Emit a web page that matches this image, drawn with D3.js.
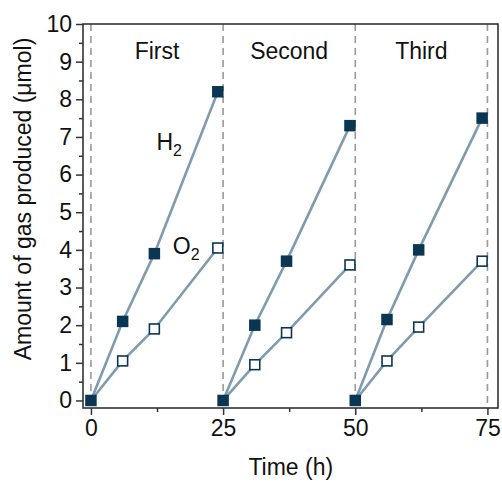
<!DOCTYPE html>
<html>
<head>
<meta charset="utf-8">
<script src="https://cdn.jsdelivr.net/npm/d3@7"></script>
<style>
  body { margin: 0; background: #fff; }
  text { font-family: "Liberation Sans", Arial, sans-serif; fill: #111; }
</style>
</head>
<body>
<div id="chart"></div>
<script>
// data
const cycleStarts = [0, 25, 50, 75];
const cycleNames = ['First', 'Second', 'Third'];
const cycleMid = [12.5, 37.5, 62.5];
const h2Cycles = [
  [[0, 0], [6, 2.1], [12, 3.9], [24, 8.2]],
  [[25, 0], [31, 2.0], [37, 3.7], [49, 7.3]],
  [[50, 0], [56, 2.15], [62, 4.0], [74, 7.5]]
];
const o2Cycles = [
  [[0, 0], [6, 1.05], [12, 1.9], [24, 4.05]],
  [[25, 0], [31, 0.95], [37, 1.8], [49, 3.6]],
  [[50, 0], [56, 1.05], [62, 1.95], [74, 3.7]]
];
const xTicks = [0, 25, 50, 75];
const xMinor = [12.5, 37.5, 62.5];
const yTicks = d3.range(0, 11, 1);
const yMinor = d3.range(0.5, 10, 1);

const W = 502, H = 482;
const m = {left: 83, right: 4, top: 24, bottom: 74};
const svg = d3.select('#chart').append('svg').attr('width', W).attr('height', H);

const x = d3.scaleLinear().domain([-1.5, 77]).range([m.left, W - m.right]);
const y = d3.scaleLinear().domain([-0.2, 10]).range([H - m.bottom, m.top]);

const lineCol = '#7f9cae', markCol = '#0a3653', dashCol = '#999';
const fs = '23px';

// dashed cycle separators
svg.selectAll('line.sep').data(cycleStarts).enter().append('line')
  .attr('class', 'sep')
  .attr('x1', d => x(d)).attr('x2', d => x(d))
  .attr('y1', y(10)).attr('y2', y(-0.2))
  .attr('stroke', dashCol).attr('stroke-width', 1.6)
  .attr('stroke-dasharray', '7,5');

// axes
svg.append('g').attr('transform', `translate(0,${y(-0.2)})`)
  .call(d3.axisBottom(x).tickValues(xTicks).tickSize(7).tickPadding(5));
svg.append('g').attr('transform', `translate(0,${y(-0.2)})`)
  .call(d3.axisBottom(x).tickValues(xMinor).tickSize(4).tickFormat(''));
svg.append('g').attr('transform', `translate(${x(-1.5)},0)`)
  .call(d3.axisLeft(y).tickValues(yTicks).tickSize(7).tickPadding(4));
svg.append('g').attr('transform', `translate(${x(-1.5)},0)`)
  .call(d3.axisLeft(y).tickValues(yMinor).tickSize(4).tickFormat(''));
svg.selectAll('.domain').remove();
svg.selectAll('.tick line').attr('stroke', '#333').attr('stroke-width', 1.5);
svg.selectAll('.tick text').style('font-size', fs).attr('fill', '#111');

// frame
svg.append('rect')
  .attr('x', x(-1.5)).attr('y', y(10))
  .attr('width', x(77) - x(-1.5)).attr('height', y(-0.2) - y(10))
  .attr('fill', 'none').attr('stroke', '#333').attr('stroke-width', 1.6);

const line = d3.line().x(d => x(d[0])).y(d => y(d[1]));

// lines
[o2Cycles, h2Cycles].forEach(series => {
  svg.append('g').selectAll('path').data(series).enter().append('path')
    .attr('d', line)
    .attr('fill', 'none').attr('stroke', lineCol).attr('stroke-width', 2.6);
});

const s = 11.5;
// O2 open markers (start point is covered by the filled one)
svg.append('g').selectAll('rect')
  .data(o2Cycles.flatMap(c => c.slice(1))).enter().append('rect')
  .attr('x', d => x(d[0]) - s / 2 + 0.8).attr('y', d => y(d[1]) - s / 2 + 0.8)
  .attr('width', s - 1.6).attr('height', s - 1.6)
  .attr('fill', '#fff').attr('stroke', markCol).attr('stroke-width', 1.6);
// H2 filled markers
svg.append('g').selectAll('rect')
  .data(h2Cycles.flat()).enter().append('rect')
  .attr('x', d => x(d[0]) - s / 2).attr('y', d => y(d[1]) - s / 2)
  .attr('width', s).attr('height', s)
  .attr('fill', markCol);

// cycle labels
svg.selectAll('text.cyc').data(cycleNames).enter().append('text')
  .attr('class', 'cyc')
  .attr('x', (d, i) => x(cycleMid[i])).attr('y', y(9.08))
  .attr('text-anchor', 'middle').style('font-size', fs)
  .text(d => d);

// species labels
function species(label, xv, yv) {
  const t = svg.append('text').attr('x', x(xv)).attr('y', y(yv)).style('font-size', fs);
  t.append('tspan').text(label);
  t.append('tspan').attr('dy', 6).style('font-size', '16px').text('2');
}
species('H', 12.4, 6.64);
species('O', 15.5, 3.9);

// axis titles
svg.append('text')
  .attr('x', x(37.8)).attr('y', 475)
  .attr('text-anchor', 'middle').style('font-size', fs)
  .text('Time (h)');
svg.append('text')
  .attr('transform', `translate(31,${(y(10) + y(-0.2)) / 2 - 17}) rotate(-90)`)
  .attr('text-anchor', 'middle').style('font-size', fs)
  .text('Amount of gas produced (μmol)');
</script>
</body>
</html>
